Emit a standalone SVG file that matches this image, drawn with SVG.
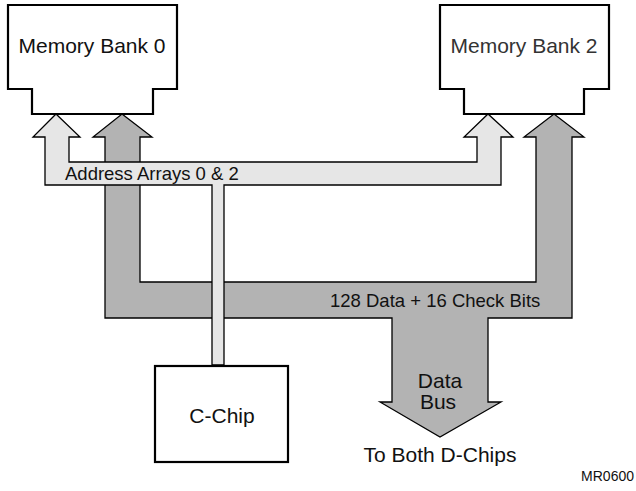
<svg xmlns="http://www.w3.org/2000/svg" width="636" height="491" viewBox="0 0 636 491">
<style>
.box{fill:#fff;stroke:#000;stroke-width:2.2}
.data{fill:#b3b3b3;stroke:#000;stroke-width:1.3;stroke-linejoin:miter}
.addr{fill:#e6e6e6;stroke:#000;stroke-width:1.3;stroke-linejoin:miter}
text{font-family:"Liberation Sans",Arial,Helvetica,sans-serif;fill:#111}
.lbl{font-size:21px}
.bus{font-size:18.5px}
</style>
<rect width="636" height="491" fill="#fff"/>
<g id="connectors">
<path class="data" d="M122,114 L152,137 L140,137 L140,282 L536,282 L536,137 L524,137 L554,114 L584,137 L572,137 L572,318 L488,318 L488,402 L501,402 L440,437 L380,402 L392,402 L392,318 L105,318 L105,137 L93,137 Z"/>
<path class="addr" d="M56,114 L80,137 L69,137 L69,162 L477,162 L477,137 L464,137 L488,114 L513,137 L501,137 L501,185 L224,185 L224,365 L212,365 L212,185 L45,185 L45,137 L33,137 Z"/>
<text class="bus" x="65" y="180">Address Arrays 0 &amp; 2</text>
<text class="bus" x="330" y="307">128 Data + 16 Check Bits</text>
<text class="lbl" x="440" y="388" text-anchor="middle">Data</text>
<text class="lbl" x="438" y="409" text-anchor="middle">Bus</text>
<text class="lbl" x="440" y="462" text-anchor="middle">To Both D-Chips</text>
</g>
<g id="bank0">
<path class="box" d="M8,5 H177 V89 H153 V114 H32 V89 H8 Z"/>
<text class="lbl" x="92" y="53" text-anchor="middle">Memory Bank 0</text>
</g>
<g id="bank2">
<path class="box" d="M440,5 H609 V89 H584 V114 H464 V89 H440 Z"/>
<text class="lbl" x="524" y="53" text-anchor="middle" style="fill:#333">Memory Bank 2</text>
</g>
<g id="cchip">
<rect class="box" x="155" y="366" width="133" height="96"/>
<text class="lbl" x="222" y="423" text-anchor="middle">C-Chip</text>
</g>
<text x="634" y="481" text-anchor="end" style="font-size:14px">MR0600</text>
</svg>
